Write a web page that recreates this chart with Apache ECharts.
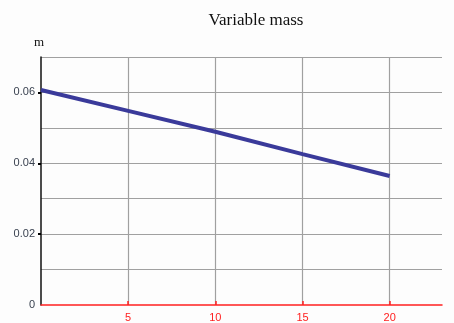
<!DOCTYPE html>
<html>
<head>
<meta charset="utf-8">
<script src="https://cdn.jsdelivr.net/npm/echarts@6/dist/echarts.min.js"></script>
<style>
  html, body { margin: 0; padding: 0; background: #fdfdfd; }
  #chart { width: 454px; height: 323px; }
</style>
</head>
<body>
<div id="chart"></div>
<script>
// Mass over time
const timeValues = [0, 5, 10, 15, 20];
const massValues = [0.0607, 0.0548, 0.0489, 0.0426, 0.0364];

// Axis ticks and labels
const xTickValues = [5, 10, 15, 20];
const yLabelValues = [0, 0.02, 0.04, 0.06];
const yTickValues = [0.02, 0.04, 0.06];

const X_MIN = 0, X_MAX = 23, X_STEP = 5;
const Y_MIN = 0, Y_MAX = 0.07, Y_STEP = 0.01;

const gridColor = '#a0a0a0';
const hiddenParts = {
  axisLine: { show: false },
  axisTick: { show: false },
  axisLabel: { show: false }
};

const chart = echarts.init(document.getElementById('chart'));

chart.setOption({
  backgroundColor: '#fdfdfd',
  animation: false,
  title: {
    text: 'Variable mass',
    left: 251,
    textAlign: 'center',
    top: 7,
    textStyle: { fontFamily: 'Liberation Serif', fontSize: 17, fontWeight: 'normal', color: '#111' }
  },
  graphic: [{
    type: 'text',
    left: 34,
    top: 36,
    style: { text: 'm', font: '13px "Liberation Serif"', fill: '#111' }
  }],
  grid: { left: 41, right: 12, top: 57, bottom: 18, containLabel: false },
  xAxis: [{
    type: 'value',
    min: X_MIN,
    max: X_MAX,
    interval: X_STEP,
    z: 3,
    axisLine: { show: true, onZero: false, lineStyle: { color: '#ff2020', width: 1.5 } },
    axisTick: { show: true, inside: true, length: 4, customValues: xTickValues, lineStyle: { color: '#ff2020', width: 1.5 } },
    axisLabel: {
      customValues: xTickValues,
      color: '#ff2020',
      fontFamily: 'Liberation Sans',
      fontSize: 11,
      margin: 7
    },
    splitLine: { show: false }
  }, {
    // vertical grid lines
    type: 'value',
    min: X_MIN,
    max: X_MAX,
    interval: X_STEP,
    position: 'bottom',
    ...hiddenParts,
    splitLine: { show: true, showMinLine: false, showMaxLine: false, lineStyle: { color: gridColor, width: 1.2 } }
  }],
  yAxis: [{
    type: 'value',
    min: Y_MIN,
    max: Y_MAX,
    interval: Y_STEP,
    z: 3,
    axisLine: { show: true, onZero: false, lineStyle: { color: '#111', width: 1.5 } },
    axisTick: { show: true, inside: false, length: 3, customValues: yTickValues, lineStyle: { color: '#000', width: 2 } },
    axisLabel: {
      customValues: yLabelValues,
      color: '#3a4250',
      fontFamily: 'Liberation Sans',
      fontSize: 11,
      margin: 6,
      formatter: v => String(Math.round(v * 100) / 100)
    },
    splitLine: { show: false }
  }, {
    // horizontal grid lines
    type: 'value',
    min: Y_MIN,
    max: Y_MAX,
    interval: Y_STEP,
    position: 'left',
    ...hiddenParts,
    splitLine: { show: true, showMinLine: false, showMaxLine: true, lineStyle: { color: gridColor, width: 1.2 } }
  }],
  series: [{
    type: 'line',
    xAxisIndex: 0,
    yAxisIndex: 0,
    data: timeValues.map((t, i) => [t, massValues[i]]),
    showSymbol: false,
    lineStyle: { color: '#3a3a9a', width: 4 },
    z: 5
  }]
});
</script>
</body>
</html>
